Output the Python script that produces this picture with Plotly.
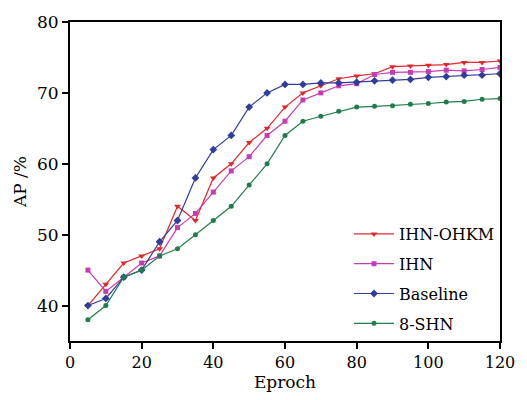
import plotly.graph_objects as go

epochs = [5, 10, 15, 20, 25, 30, 35, 40, 45, 50, 55, 60, 65, 70, 75, 80, 85, 90, 95, 100, 105, 110, 115, 120]
ihn_ohkm = [40, 43, 46, 47, 48, 54, 52, 58, 60, 63, 65, 68, 70, 71, 72, 72.4, 72.7, 73.7, 73.8, 73.9, 74.0, 74.3, 74.3, 74.5]
ihn = [45, 42, 44, 46, 47, 51, 53, 56, 59, 61, 64, 66, 69, 70, 71, 71.3, 72.6, 72.9, 72.9, 73.0, 73.2, 73.1, 73.3, 73.6]
baseline = [40, 41, 44, 45, 49, 52, 58, 62, 64, 68, 70, 71.2, 71.2, 71.4, 71.4, 71.5, 71.7, 71.8, 71.9, 72.2, 72.3, 72.5, 72.5, 72.7]
shn8 = [38, 40, 44, 45, 47, 48, 50, 52, 54, 57, 60, 64, 66, 66.7, 67.4, 68.0, 68.1, 68.2, 68.4, 68.5, 68.7, 68.8, 69.1, 69.2]

series = [
    ("IHN-OHKM", ihn_ohkm, "#e0282c", "triangle-down", 6),
    ("IHN", ihn, "#c63cb4", "square", 5),
    ("Baseline", baseline, "#2f3d9c", "diamond", 6),
    ("8-SHN", shn8, "#1e7d4c", "circle", 5),
]

fig = go.Figure()
for name, vals, color, sym, size in series:
    fig.add_trace(go.Scatter(
        x=epochs, y=vals, name=name, mode="lines+markers", legendgroup=name,
        line=dict(color=color, width=1.2),
        marker=dict(symbol=sym, size=size, color=color),
    ))

fig.update_layout(
    width=527, height=400,
    margin=dict(l=70, r=16, t=15, b=54),
    paper_bgcolor="white", plot_bgcolor="white",
    font=dict(family="DejaVu Serif", size=16, color="black"),
    showlegend=True,
    legend=dict(
        x=1.0, xanchor="right", y=0.0, yanchor="bottom",
        bgcolor="rgba(0,0,0,0)", font=dict(size=16),
        traceorder="grouped", tracegroupgap=6, itemwidth=40,
    ),
    xaxis=dict(
        range=[0, 120], tickvals=[0, 20, 40, 60, 80, 100, 120],
        tickfont=dict(size=16),
        showline=True, linecolor="black", linewidth=2, mirror=True,
        ticks="outside", ticklen=6, tickwidth=2, tickcolor="black",
        showgrid=False, zeroline=False,
        title=dict(text="Eproch", standoff=4, font=dict(size=17)),
    ),
    yaxis=dict(
        range=[35, 80], tickvals=[40, 50, 60, 70, 80],
        tickfont=dict(size=17),
        showline=True, linecolor="black", linewidth=2, mirror=True,
        ticks="outside", ticklen=6, tickwidth=2, tickcolor="black",
        showgrid=False, zeroline=False,
        title=dict(text="AP /%", standoff=6, font=dict(size=17)),
    ),
)

fig.write_html("out.html", config={"displayModeBar": False},
               post_script="document.body.style.margin='0';document.body.style.padding='0';")
